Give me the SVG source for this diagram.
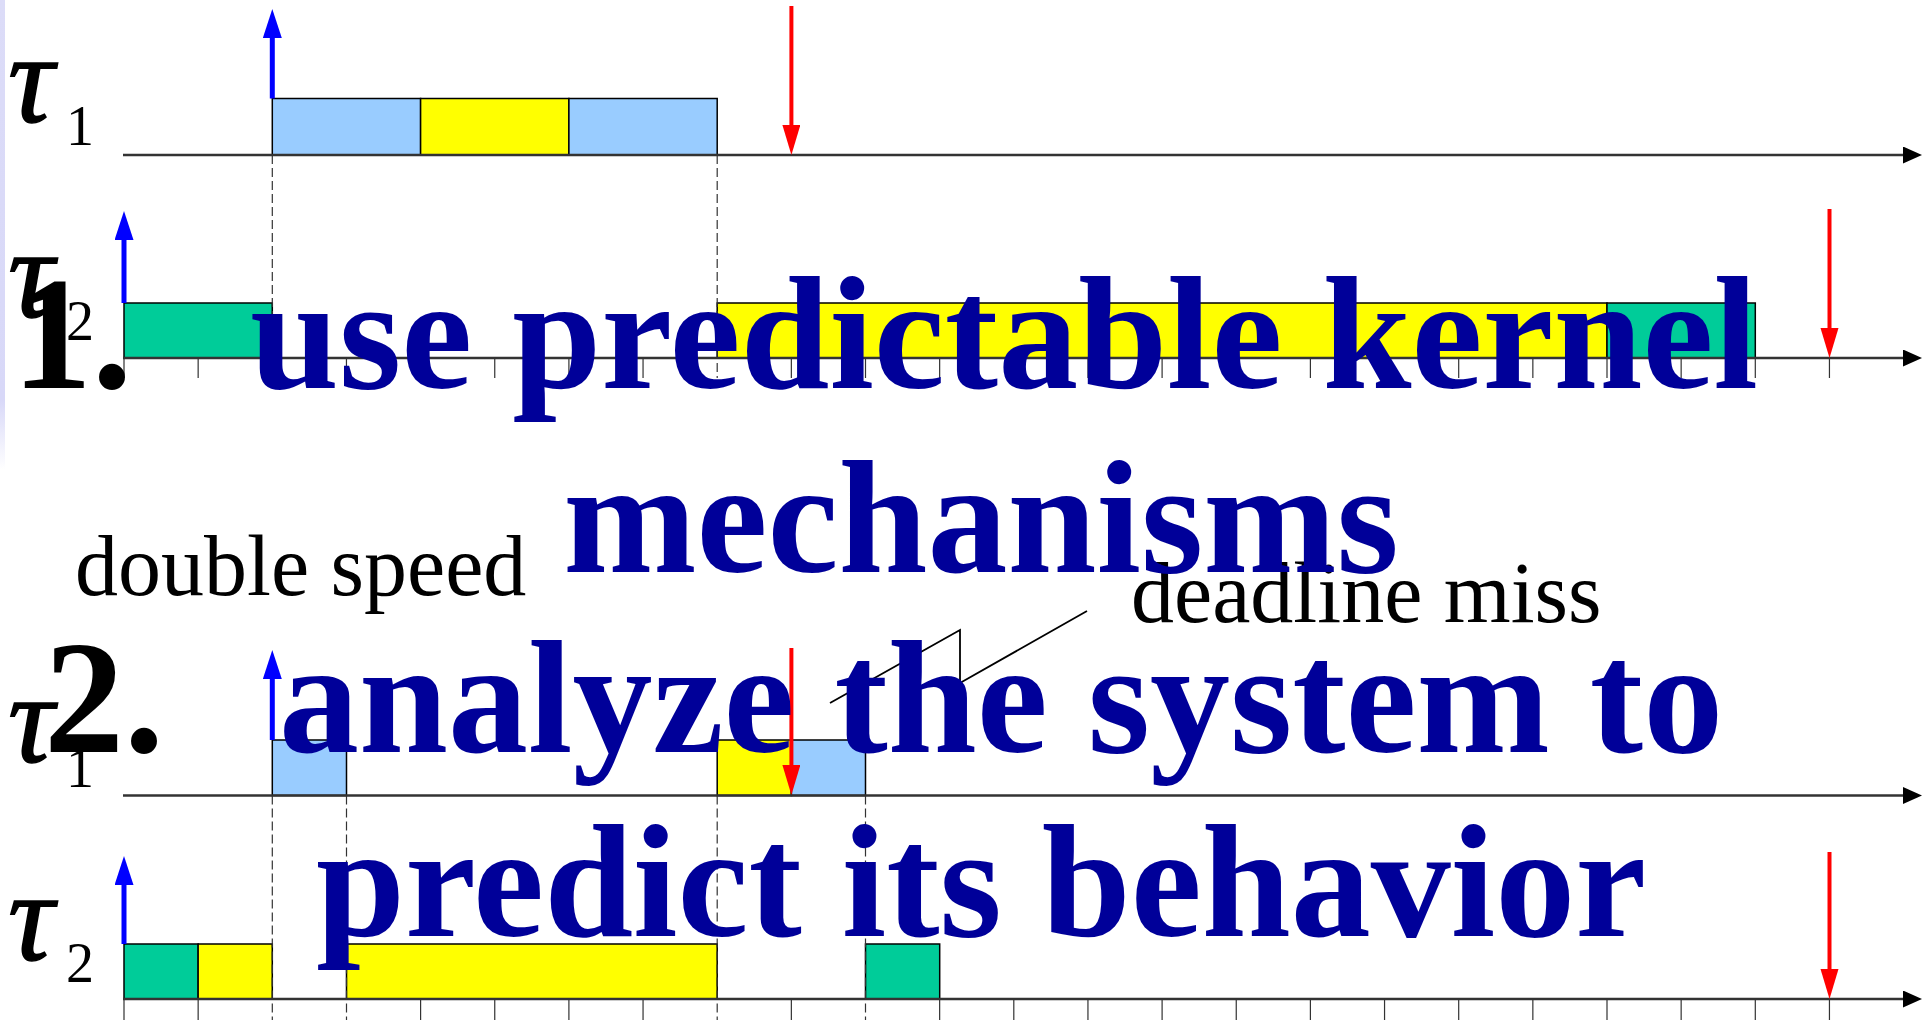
<svg xmlns="http://www.w3.org/2000/svg" width="1931" height="1020" viewBox="0 0 1931 1020">
<style>
.bl{fill:#99CCFF;stroke:#000;stroke-width:1.5}
.ye{fill:#FFFF00;stroke:#000;stroke-width:1.5}
.gr{fill:#00CC99;stroke:#000;stroke-width:1.5}
.ax{stroke:#333;stroke-width:2.5;fill:none}
.tk{stroke:#333;stroke-width:1.2}
.da{stroke:#333;stroke-width:1.2;stroke-dasharray:9 4}
.up{stroke:#0000FF;stroke-width:5}
.dn{stroke:#FF0000;stroke-width:4}
.tau{font-family:"Liberation Serif",serif;font-style:italic;font-size:128px;fill:#000;stroke:#000;stroke-width:1.5}
.sub{font-family:"Liberation Serif",serif;font-size:56px;fill:#000}
.lab{font-family:"Liberation Serif",serif;font-size:86px;fill:#000}
.big{font-family:"Liberation Serif",serif;font-weight:bold;font-size:160px;fill:#000099}
.num{font-family:"Liberation Serif",serif;font-weight:bold;font-size:160px;fill:#000}
</style>
<defs>
<linearGradient id="lav" x1="0" y1="0" x2="0" y2="1">
<stop offset="0" stop-color="#dcdcf8"/>
<stop offset="0.85" stop-color="#d8d8f8"/>
<stop offset="1" stop-color="#ffffff"/>
</linearGradient>
<marker id="hb" markerUnits="userSpaceOnUse" markerWidth="30" markerHeight="20" refX="1" refY="9.5" orient="auto">
<path d="M0,0 L29,9.5 L0,19 z" fill="#0000FF"/>
</marker>
<marker id="hr" markerUnits="userSpaceOnUse" markerWidth="31" markerHeight="19" refX="1" refY="9" orient="auto">
<path d="M0,0 L30,9 L0,18 z" fill="#FF0000"/>
</marker>
<marker id="ha" markerUnits="userSpaceOnUse" markerWidth="20" markerHeight="18" refX="1" refY="8.5" orient="auto">
<path d="M0,0 L19,8.5 L0,17 z" fill="#000"/>
</marker>
</defs>
<rect width="1931" height="1020" fill="#fff"/>
<rect x="0" y="0" width="5" height="470" fill="url(#lav)"/>

<g id="row1-tau1">
<rect class="bl" x="272.3" y="98.5" width="148.3" height="56.5"/>
<rect class="ye" x="420.6" y="98.5" width="148.3" height="56.5"/>
<rect class="bl" x="568.9" y="98.5" width="148.3" height="56.5"/>
<text class="tau" x="8" y="122">τ</text><text class="sub" x="66" y="145">1</text>
</g>
<g id="row2-tau2">
<rect class="gr" x="124" y="303" width="148.3" height="55"/>
<rect class="ye" x="717.2" y="303" width="889.8" height="55"/>
<rect class="gr" x="1607" y="303" width="148.3" height="55"/>
<text class="tau" x="8" y="317">τ</text><text class="sub" x="66" y="340">2</text>
</g>
<g id="row3-tau1">
<rect class="bl" x="272.3" y="740" width="74.2" height="55.5"/>
<rect class="ye" x="717.2" y="740" width="74.2" height="55.5"/>
<rect class="bl" x="791.4" y="740" width="74.1" height="55.5"/>
<text class="tau" x="8" y="762">τ</text><text class="sub" x="66" y="787">1</text>
</g>
<g id="row4-tau2">
<rect class="gr" x="124" y="944" width="74.15" height="55"/>
<rect class="ye" x="198.15" y="944" width="74.15" height="55"/>
<rect class="ye" x="346.5" y="944" width="370.7" height="55"/>
<rect class="gr" x="865.5" y="944" width="74.2" height="55"/>
<text class="tau" x="8" y="960">τ</text><text class="sub" x="66" y="982">2</text>
</g>

<g id="ticks">
<path class="tk" d="M124,358v20M198.15,358v20M346.45,358v20M420.6,358v20M494.75,358v20M568.9,358v20M643.05,358v20M791.35,358v20M865.5,358v20M939.65,358v20M1013.8,358v20M1087.95,358v20M1162.1,358v20M1236.25,358v20M1310.4,358v20M1384.55,358v20M1458.7,358v20M1532.85,358v20M1607,358v20M1681.15,358v20M1755.3,358v20M1829.45,358v20"/>
<path class="tk" d="M124,999v21M198.15,999v21M420.6,999v21M494.75,999v21M568.9,999v21M643.05,999v21M791.35,999v21M939.65,999v21M1013.8,999v21M1087.95,999v21M1162.1,999v21M1236.25,999v21M1310.4,999v21M1384.55,999v21M1458.7,999v21M1532.85,999v21M1607,999v21M1681.15,999v21M1755.3,999v21M1829.45,999v21"/>
<path class="da" d="M272.3,155V378M717.2,155V378"/>
<path class="da" d="M272.3,795.5V1020M346.5,795.5V1020M717.2,795.5V1020M865.5,795.5V1020"/>
</g>

<g id="connectors">
<line class="ax" x1="123" y1="155" x2="1904" y2="155" marker-end="url(#ha)"/>
<line class="ax" x1="123" y1="358" x2="1904" y2="358" marker-end="url(#ha)"/>
<line class="ax" x1="123" y1="795.5" x2="1904" y2="795.5" marker-end="url(#ha)"/>
<line class="ax" x1="123" y1="999" x2="1904" y2="999" marker-end="url(#ha)"/>
<line class="up" x1="272.3" y1="98.5" x2="272.3" y2="37" marker-end="url(#hb)"/>
<line class="up" x1="124" y1="303" x2="124" y2="239" marker-end="url(#hb)"/>
<line class="up" x1="272.3" y1="740" x2="272.3" y2="678" marker-end="url(#hb)"/>
<line class="up" x1="124" y1="944" x2="124" y2="884" marker-end="url(#hb)"/>
<line class="dn" x1="791.4" y1="6" x2="791.4" y2="126" marker-end="url(#hr)"/>
<line class="dn" x1="1829.5" y1="209" x2="1829.5" y2="329" marker-end="url(#hr)"/>
<line class="dn" x1="791.4" y1="648" x2="791.4" y2="766" marker-end="url(#hr)"/>
<line class="dn" x1="1829.5" y1="852" x2="1829.5" y2="970" marker-end="url(#hr)"/>
<polyline points="1087,611 960,683 960,630 830,703" fill="none" stroke="#000" stroke-width="1.8"/>
</g>

<g id="labels">
<text class="lab" x="75" y="595">double speed</text>
<text class="lab" x="1131" y="622">deadline miss</text>
</g>

<g id="list">
<text class="num" x="12" y="388">1.</text>
<text class="big" x="250" y="388">use predictable kernel</text>
<text class="big" x="981" y="572" text-anchor="middle">mechanisms</text>
<text class="num" x="44" y="752">2.</text>
<text class="big" x="279" y="752">analyze the system to</text>
<text class="big" x="316" y="936">predict its behavior</text>
</g>
</svg>
